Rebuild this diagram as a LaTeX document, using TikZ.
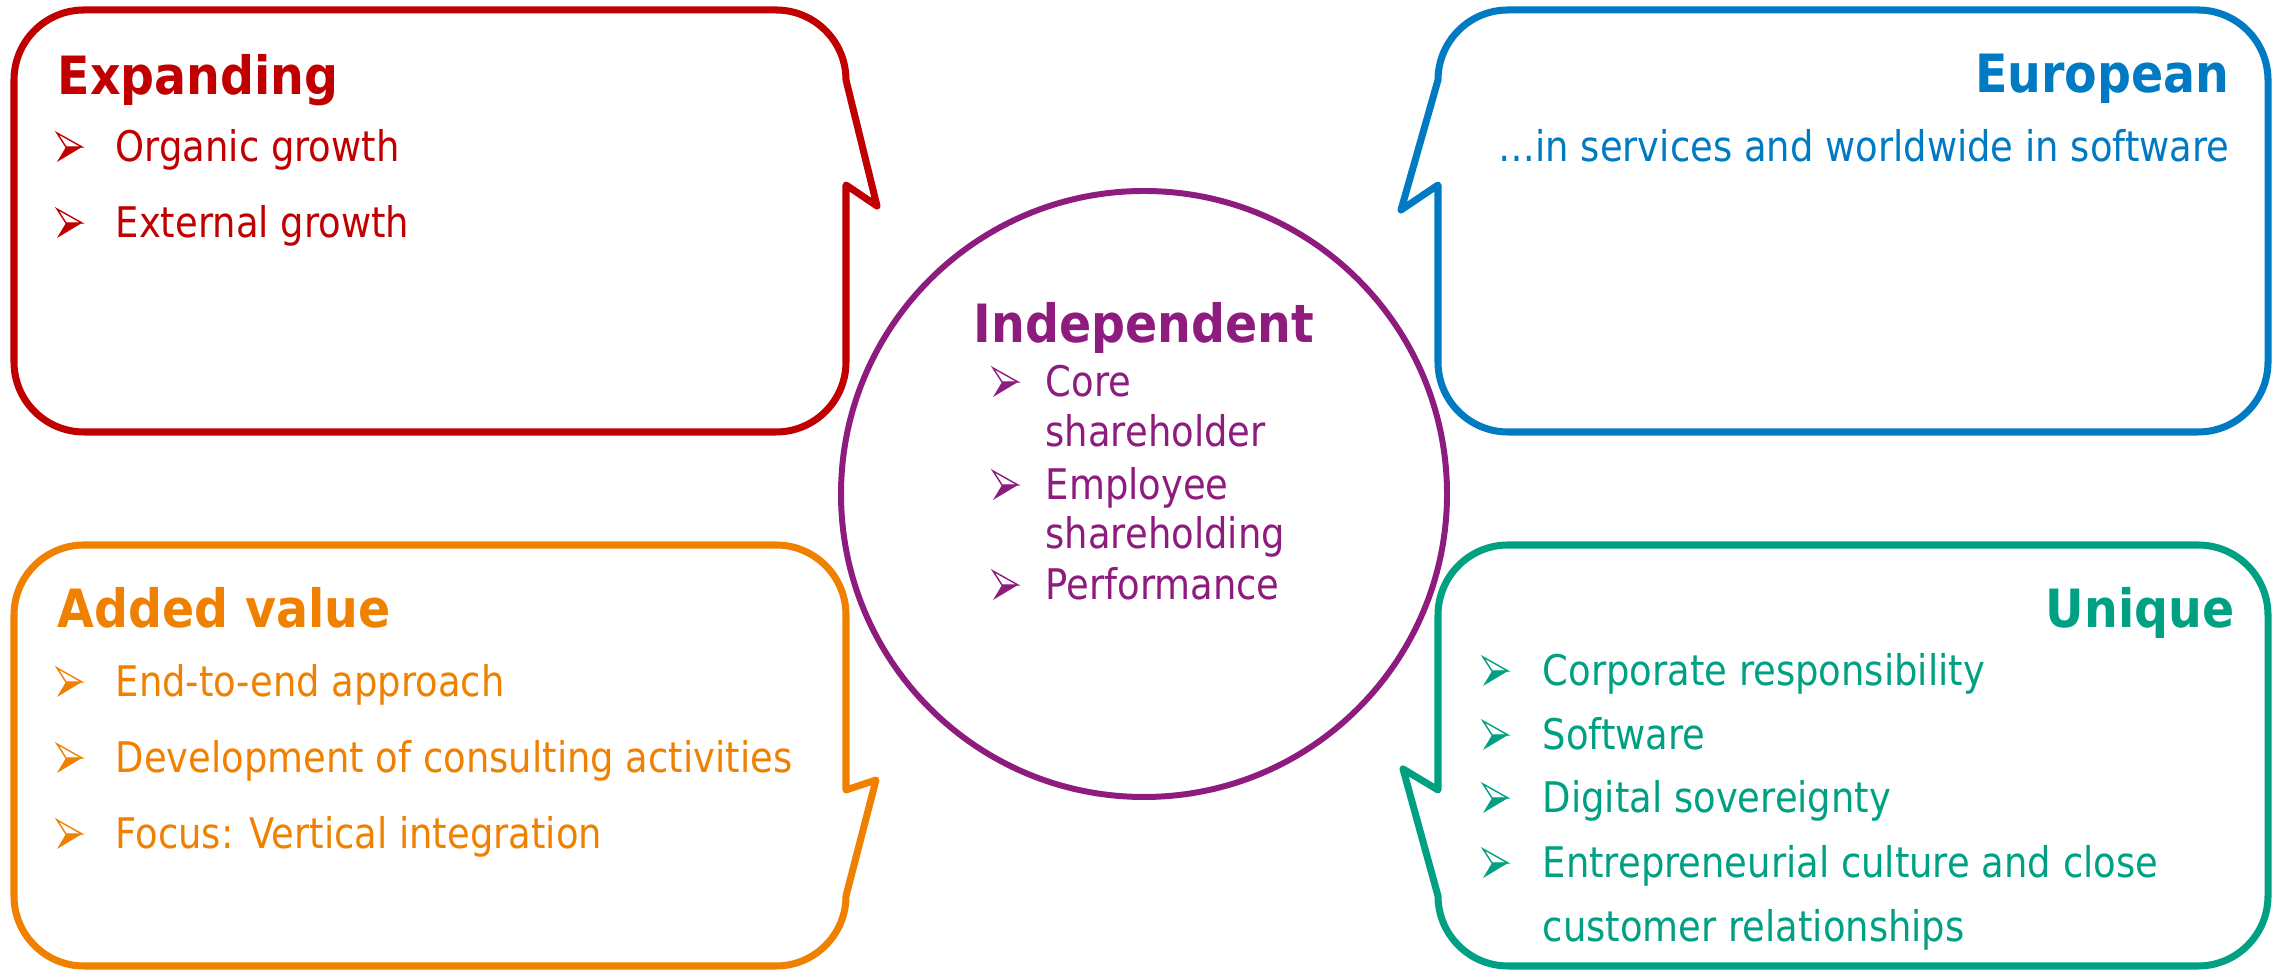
\documentclass[tikz,border=0pt]{standalone}
\usepackage{fontspec}
\setmainfont{DejaVu Sans}[FakeStretch=0.875, BoldFeatures={FakeStretch=0.9}]
\usetikzlibrary{positioning}

\definecolor{expred}{HTML}{C00000}
\definecolor{eurblue}{HTML}{007AC2}
\definecolor{addorange}{HTML}{F08000}
\definecolor{uniteal}{HTML}{00A082}
\definecolor{indpurple}{HTML}{8E1B7E}

\begin{document}
\begin{tikzpicture}[x=0.01cm, y=0.01cm,
        box/.style={line width=2pt, line join=round, line cap=round},
        head/.style={font=\fontsize{15}{18}\selectfont\bfseries, inner sep=0pt},
        item/.style={font=\fontsize{12}{14}\selectfont, inner sep=0pt, anchor=base west},
        arrowmark/.pic={
            \fill (0,0) -- (25,15) -- (9,15) -- cycle;
            \draw[line width=0.4pt, line join=miter] (0,29) -- (25,15) -- (9,15) -- cycle;
        }]
    \useasboundingbox (0,0) rectangle (2275,970);

    % top left callout
    \draw[box, expred] (846,890) -- (877,764) -- (846,785) -- (846,608)
        arc[start angle=0, end angle=-90, radius=70] -- (84,538)
        arc[start angle=270, end angle=180, radius=70] -- (14,890)
        arc[start angle=180, end angle=90, radius=70] -- (776,960)
        arc[start angle=90, end angle=0, radius=70] -- cycle;
    \node[head, expred, anchor=base west] (expanding) at (57,875) {Expanding};
    \pic[color=expred] at (57,808) {arrowmark};
    \node[item, expred] (organic) at (115,808) {Organic growth};
    \pic[color=expred] at (57,732) {arrowmark};
    \node[item, expred] (external) at (115,732) {External growth};

    % top right callout
    \draw[box, eurblue] (1438,890) -- (1401,760) -- (1438,785) -- (1438,608)
        arc[start angle=180, end angle=270, radius=70] -- (2198,538)
        arc[start angle=-90, end angle=0, radius=70] -- (2268,890)
        arc[start angle=0, end angle=90, radius=70] -- (1508,960)
        arc[start angle=90, end angle=180, radius=70] -- cycle;
    \node[head, eurblue, anchor=base east] (european) at (2230,877) {European};
    \node[item, eurblue, anchor=base east] (services) at (2230,808) {…in services and worldwide in software};

    % bottom left callout
    \draw[box, addorange] (846,74) -- (876,190) -- (846,180) -- (846,355)
        arc[start angle=0, end angle=90, radius=70] -- (84,425)
        arc[start angle=90, end angle=180, radius=70] -- (14,74)
        arc[start angle=180, end angle=270, radius=70] -- (776,4)
        arc[start angle=270, end angle=360, radius=70] -- cycle;
    \node[head, addorange, anchor=base west] (added) at (57,342) {Added value};
    \pic[color=addorange] at (57,273) {arrowmark};
    \node[item, addorange] (endtoend) at (115,273) {End-to-end approach};
    \pic[color=addorange] at (57,197) {arrowmark};
    \node[item, addorange] (consulting) at (115,197) {Development of consulting activities};
    \pic[color=addorange] at (57,121) {arrowmark};
    \node[item, addorange] (focus) at (115,121) {Focus: Vertical integration};

    % bottom right callout
    \draw[box, uniteal] (1438,74) -- (1403,201) -- (1438,180) -- (1438,355)
        arc[start angle=180, end angle=90, radius=70] -- (2198,425)
        arc[start angle=90, end angle=0, radius=70] -- (2268,74)
        arc[start angle=0, end angle=-90, radius=70] -- (1508,4)
        arc[start angle=270, end angle=180, radius=70] -- cycle;
    \node[head, uniteal, anchor=base east] (unique) at (2235,342) {Unique};
    \pic[color=uniteal] at (1483,284) {arrowmark};
    \node[item, uniteal] (corporate) at (1542,284) {Corporate responsibility};
    \pic[color=uniteal] at (1483,220) {arrowmark};
    \node[item, uniteal] (software) at (1542,220) {Software};
    \pic[color=uniteal] at (1483,157) {arrowmark};
    \node[item, uniteal] (digital) at (1542,157) {Digital sovereignty};
    \pic[color=uniteal] at (1483,92) {arrowmark};
    \node[item, uniteal] (entre) at (1542,92) {Entrepreneurial culture and close};
    \node[item, uniteal] (entre2) at (1542,28) {customer relationships};

    % centre circle
    \draw[indpurple, line width=1.7pt] (1144,476) circle (303);
    \node[head, indpurple, anchor=base west] (independent) at (973,627) {Independent};
    \pic[color=indpurple] at (993,573) {arrowmark};
    \node[item, indpurple] (core) at (1045,573) {Core};
    \node[item, indpurple] (core2) at (1045,523) {shareholder};
    \pic[color=indpurple] at (993,470) {arrowmark};
    \node[item, indpurple] (employee) at (1045,470) {Employee};
    \node[item, indpurple] (employee2) at (1045,421) {shareholding};
    \pic[color=indpurple] at (993,370) {arrowmark};
    \node[item, indpurple] (performance) at (1045,370) {Performance};
\end{tikzpicture}
\end{document}
